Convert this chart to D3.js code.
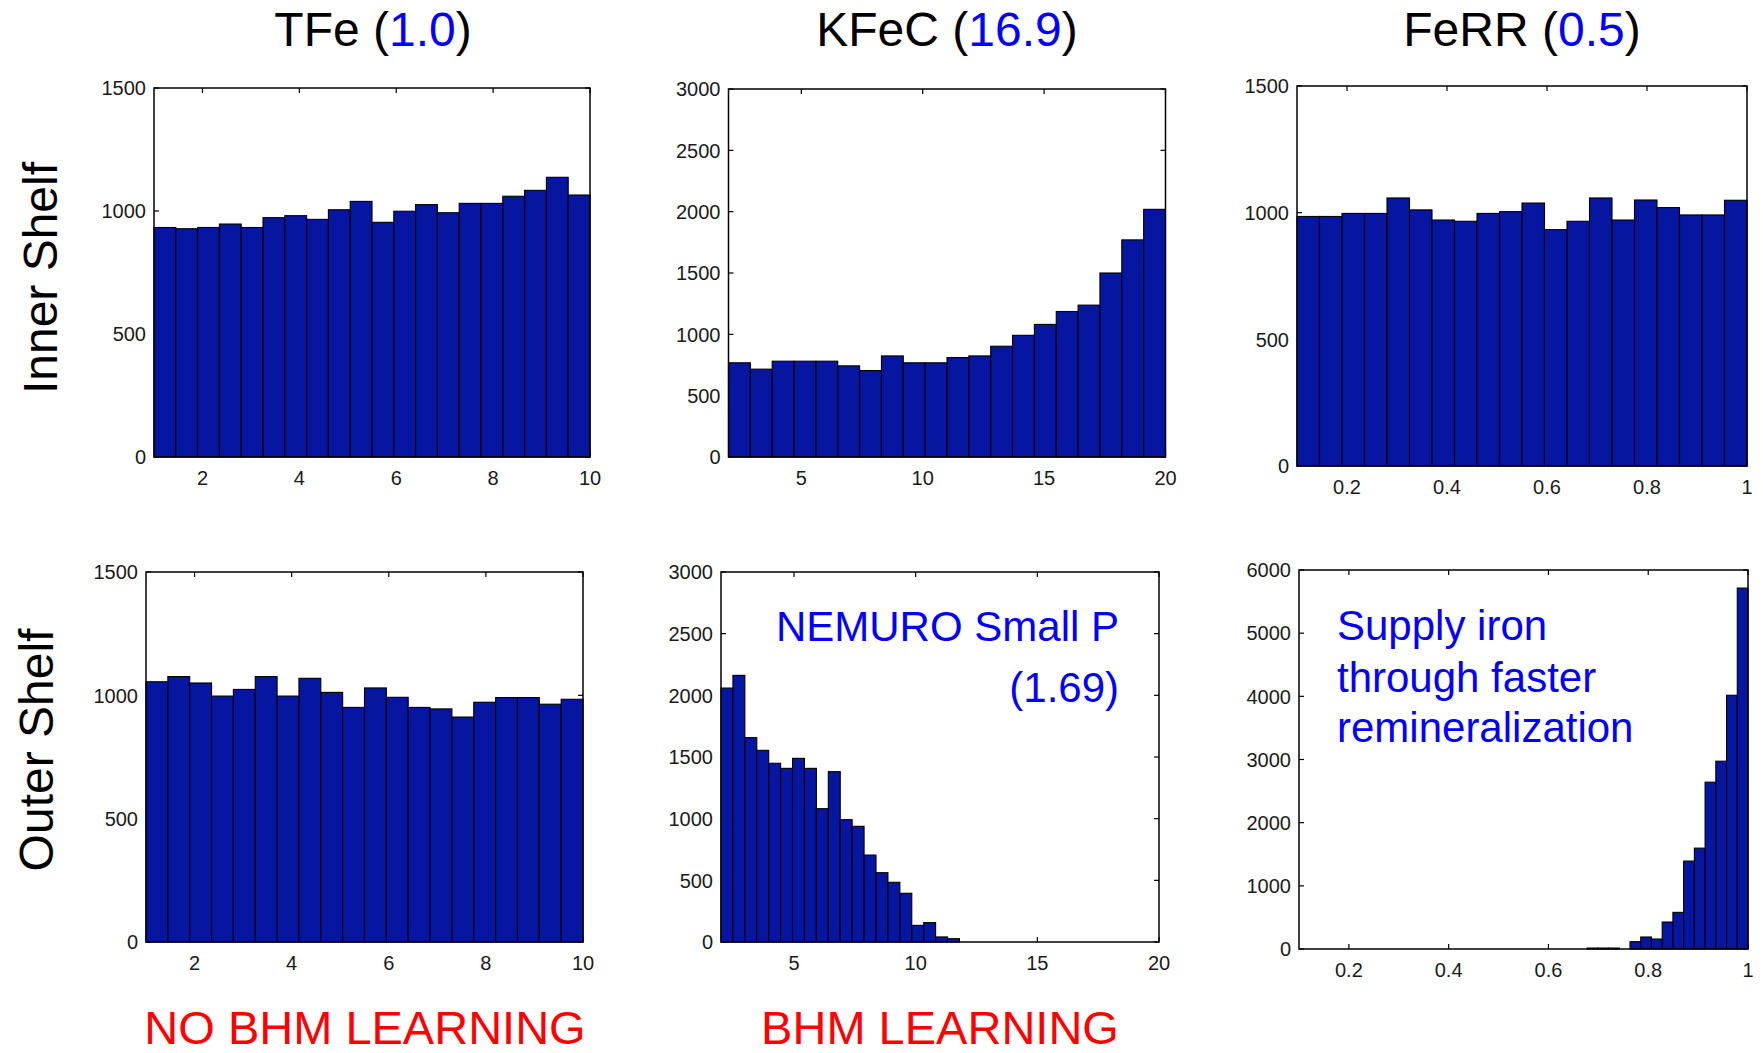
<!DOCTYPE html>
<html>
<head>
<meta charset="utf-8">
<script src="https://cdn.jsdelivr.net/npm/d3@7"></script>
<style>
  html, body { margin: 0; padding: 0; background: #fff; }
  svg { display: block; font-family: "Liberation Sans", Arial, Helvetica, sans-serif; }
</style>
</head>
<body>
<svg id="fig" width="1763" height="1053"></svg>
<script>
// Histogram counts, 20 bins per panel
const tfeInner  = [933, 928, 933, 947, 933, 973, 981, 966, 1005, 1039, 954, 999, 1026, 993, 1031, 1031, 1060, 1084, 1137, 1065];
const kfecInner = [768, 716, 781, 781, 781, 743, 705, 824, 768, 768, 811, 824, 903, 992, 1081, 1186, 1238, 1500, 1770, 2019];
const ferrInner = [985, 985, 997, 997, 1058, 1011, 971, 966, 997, 1004, 1038, 933, 966, 1058, 971, 1050, 1020, 991, 991, 1049];
const tfeOuter  = [1055, 1076, 1050, 997, 1024, 1076, 997, 1069, 1012, 951, 1030, 992, 951, 945, 912, 972, 991, 991, 964, 984];
const kfecOuter = [2059, 2162, 1657, 1554, 1449, 1408, 1489, 1408, 1081, 1381, 992, 938, 705, 562, 484, 395, 135, 157, 41, 27];
const ferrOuter = [0, 0, 0, 0, 0, 15, 15, 15, 0, 116, 190, 158, 427, 580, 1392, 1597, 2641, 2973, 4017, 5714];

// Sample ranges spanned by the bins [min, max]
const tfeInnerRange  = [1, 10];
const kfecInnerRange = [2, 20];
const ferrInnerRange = [0.1, 1];
const tfeOuterRange  = [1, 10];
const kfecOuterRange = [2, 11.8];
const ferrOuterRange = [0.57, 1];

// Axis limits and tick labels
const tfeXDomain  = [1, 10];
const kfecXDomain = [2, 20];
const ferrXDomain = [0.1, 1];
const tfeXTicks  = [2, 4, 6, 8, 10];
const kfecXTicks = [5, 10, 15, 20];
const ferrXTicks = [0.2, 0.4, 0.6, 0.8, 1];
const yTicks1500 = [0, 500, 1000, 1500];
const yTicks3000 = [0, 500, 1000, 1500, 2000, 2500, 3000];
const yTicks6000 = [0, 1000, 2000, 3000, 4000, 5000, 6000];

// Column titles: parameter name and value
const paramNames  = ["TFe", "KFeC", "FeRR"];
const paramValues = ["1.0", "16.9", "0.5"];
const rowLabels = ["Inner Shelf", "Outer Shelf"];
const footLabels = ["NO BHM LEARNING", "BHM LEARNING"];

const BAR_FILL = "#0616a0";
const svg = d3.select("#fig");
svg.append("rect").attr("width", 1763).attr("height", 1053).attr("fill", "#fff");

const panels = [
  { box: {l: 154, r: 590, t: 88, b: 457},  counts: tfeInner,  range: tfeInnerRange,  xd: tfeXDomain,  xt: tfeXTicks,  yt: yTicks1500 },
  { box: {l: 728.5, r: 1165.5, t: 89, b: 457}, counts: kfecInner, range: kfecInnerRange, xd: kfecXDomain, xt: kfecXTicks, yt: yTicks3000 },
  { box: {l: 1297, r: 1747, t: 86, b: 466}, counts: ferrInner, range: ferrInnerRange, xd: ferrXDomain, xt: ferrXTicks, yt: yTicks1500 },
  { box: {l: 146, r: 583, t: 572, b: 942},  counts: tfeOuter,  range: tfeOuterRange,  xd: tfeXDomain,  xt: tfeXTicks,  yt: yTicks1500 },
  { box: {l: 721, r: 1159, t: 572, b: 942}, counts: kfecOuter, range: kfecOuterRange, xd: kfecXDomain, xt: kfecXTicks, yt: yTicks3000 },
  { box: {l: 1299, r: 1748, t: 570, b: 949}, counts: ferrOuter, range: ferrOuterRange, xd: ferrXDomain, xt: ferrXTicks, yt: yTicks6000 }
];

const TICK = 5;

panels.forEach(p => {
  const {l, r, t, b} = p.box;
  const x = d3.scaleLinear().domain(p.xd).range([l, r]);
  const y = d3.scaleLinear().domain([p.yt[0], p.yt[p.yt.length - 1]]).range([b, t]);
  const g = svg.append("g");

  const n = p.counts.length;
  const w = (p.range[1] - p.range[0]) / n;
  const bins = p.counts.map((c, i) => ({ x0: p.range[0] + i * w, x1: p.range[0] + (i + 1) * w, c }));

  // inward tick marks on all four sides
  const tg = g.append("g").attr("stroke", "#000").attr("stroke-width", 1.2);
  p.xt.forEach(v => {
    tg.append("line").attr("x1", x(v)).attr("x2", x(v)).attr("y1", b).attr("y2", b - TICK);
    tg.append("line").attr("x1", x(v)).attr("x2", x(v)).attr("y1", t).attr("y2", t + TICK);
  });
  p.yt.forEach(v => {
    tg.append("line").attr("x1", l).attr("x2", l + TICK).attr("y1", y(v)).attr("y2", y(v));
    tg.append("line").attr("x1", r).attr("x2", r - TICK).attr("y1", y(v)).attr("y2", y(v));
  });

  // histogram bars
  g.append("g").selectAll("rect").data(bins).join("rect")
    .attr("x", d => x(d.x0))
    .attr("width", d => x(d.x1) - x(d.x0))
    .attr("y", d => y(d.c))
    .attr("height", d => y(0) - y(d.c))
    .attr("fill", BAR_FILL)
    .attr("stroke", "#000")
    .attr("stroke-width", 1.1);

  // axes frame
  g.append("rect").attr("x", l).attr("y", t).attr("width", r - l).attr("height", b - t)
    .attr("fill", "none").attr("stroke", "#000").attr("stroke-width", 1.5);

  // tick labels
  g.append("g").selectAll("text").data(p.xt).join("text")
    .attr("x", d => x(d)).attr("y", b + 28)
    .attr("text-anchor", "middle")
    .attr("font-size", 20).attr("fill", "#1a1a1a")
    .text(d => String(d));
  g.append("g").selectAll("text").data(p.yt).join("text")
    .attr("x", l - 8).attr("y", d => y(d)).attr("dy", "0.36em")
    .attr("text-anchor", "end")
    .attr("font-size", 20).attr("fill", "#1a1a1a")
    .text(d => String(d));
});

// column titles
const titleX = [373, 947, 1522];
paramNames.forEach((name, i) => {
  const tx = svg.append("text").attr("x", titleX[i]).attr("y", 46)
    .attr("text-anchor", "middle").attr("font-size", 48).attr("fill", "#000");
  tx.append("tspan").text(name + " (");
  tx.append("tspan").attr("fill", "#0000ff").text(paramValues[i]);
  tx.append("tspan").text(")");
});

// row labels
const rowY = [278, 750];
const rowX = [57, 53];
rowLabels.forEach((lab, i) => {
  svg.append("text")
    .attr("transform", `translate(${rowX[i]},${rowY[i]}) rotate(-90)`)
    .attr("text-anchor", "middle").attr("font-size", 48).attr("fill", "#000")
    .text(lab);
});

// footer labels
const footX = [365, 940];
footLabels.forEach((lab, i) => {
  svg.append("text").attr("x", footX[i]).attr("y", 1044)
    .attr("text-anchor", "middle").attr("font-size", 47).attr("fill", "#ff0000")
    .text(lab);
});

// panel annotations
const nemuro = ["NEMURO Small P", "(1.69)"];
const nemuroY = [641, 702];
nemuro.forEach((s, i) => {
  svg.append("text").attr("x", 1119).attr("y", nemuroY[i])
    .attr("text-anchor", "end").attr("font-size", 42).attr("fill", "#0000ff").text(s);
});
const supply = ["Supply iron", "through faster", "remineralization"];
const supplyY = [640, 692, 742];
supply.forEach((s, i) => {
  svg.append("text").attr("x", 1337).attr("y", supplyY[i])
    .attr("text-anchor", "start").attr("font-size", 42).attr("fill", "#0000ff").text(s);
});
</script>
</body>
</html>
